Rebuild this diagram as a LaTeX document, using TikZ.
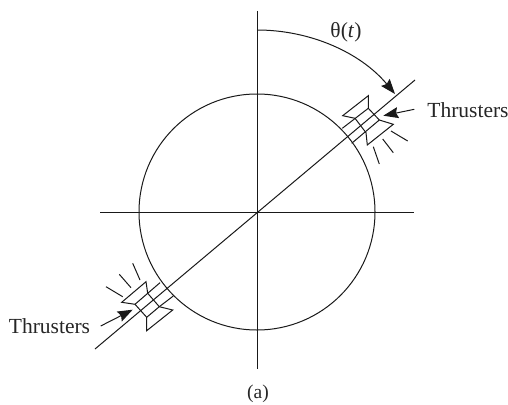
\documentclass[tikz,border=0pt]{standalone}
\usepackage{fontspec}
\setmainfont{Liberation Serif}
\usetikzlibrary{arrows.meta}
\begin{document}
\begin{tikzpicture}[x=1pt, y=-1pt]
\tikzset{
    >={Stealth[length=15pt, width=11pt, inset=2pt]},
    eixo/.style={-, line width=1pt, black!90},
    bocal/.style={-, line width=1pt, black!90, line join=miter},
    jato/.style={-, line width=1pt, black!90},
    seta/.style={->, line width=1pt, black!90},
    rotulo/.style={font=\fontsize{21.5}{25}\selectfont, inner sep=0pt, text=black!85}
}
\useasboundingbox (0,0) rectangle (508,404);
\coordinate (c0) at (257,212);
\node[circle, draw, line width=1pt, black!90, inner sep=0pt, minimum size=236pt] (disco) at (c0) {};
% Eixos e linha do corpo
\coordinate (n) at (257,11);
\coordinate (s) at (257,369);
\coordinate (w) at (100,212);
\coordinate (e) at (414,212);
\coordinate (a) at (95,349);
\coordinate (b) at (415,80);
\draw[eixo] (n) -- (s);
\draw[eixo] (w) -- (e);
\draw[eixo] (a) -- (b);
% Propulsor superior
\draw[bocal] (368.3,108.3) -- (368.3,95.7) -- (342.7,115.7) -- (355,118.3) -- (366,132.7) -- (367.3,145) -- (393.3,124.3) -- (379.3,120) -- cycle;
\draw[bocal] (368.3,108.3) -- (342.3,128.3);
\draw[bocal] (379.3,120) -- (351.7,143.3);
\draw[jato] (391,131) -- (407.7,141);
\draw[jato] (382.7,139) -- (393.3,152.7);
\draw[jato] (373.3,146.7) -- (379.3,164);
% Propulsor inferior
\draw[bocal] (147.7,293.3) -- (146,281.7) -- (121.7,302.3) -- (135,304.3) -- (146.7,317.3) -- (146.7,330.7) -- (172.7,310) -- (159.3,306.7) -- cycle;
\draw[bocal] (135,304.3) -- (147.7,293.3) -- (160,282.7);
\draw[bocal] (146.7,317.3) -- (159.3,306.7) -- (173.3,296);
\draw[jato] (106,286.7) -- (122.7,296.7);
\draw[jato] (119.3,274.3) -- (131,287.7);
\draw[jato] (132.7,263.3) -- (140,280);
% Rótulos e setas
\node[rotulo] (thr1) at (468,110) {Thrusters};
\node[rotulo] (thr2) at (49.5,326) {Thrusters};
\node[rotulo] (ang) at (346,32.5) {θ(\textit{t})};
\node[rotulo, font=\fontsize{19.5}{23}\selectfont] (leg) at (258,394) {(a)};
\coordinate (t1) at (414.3,109.3);
\coordinate (p1) at (383.3,115.7);
\coordinate (t2) at (100.7,326);
\coordinate (p2) at (132.7,309.7);
\draw[seta] (t1) -- (p1);
\draw[seta] (t2) -- (p2);
\coordinate (a0) at (257,30);
\coordinate (a1) at (395,94);
\draw[seta] (a0) .. controls (310.8,30) and (361,53) .. (a1);
\end{tikzpicture}
\end{document}
